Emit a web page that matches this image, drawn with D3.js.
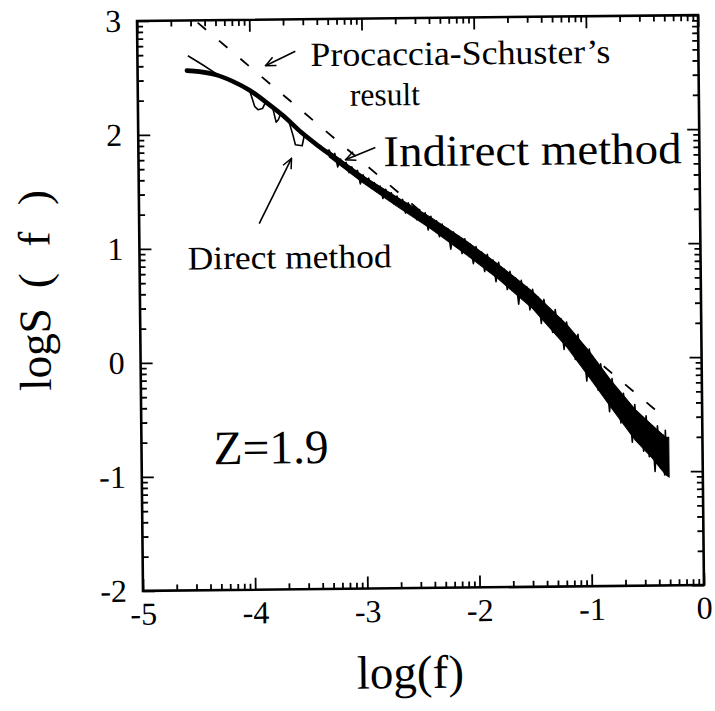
<!DOCTYPE html>
<html>
<head>
<meta charset="utf-8">
<script src="https://cdn.jsdelivr.net/npm/d3@7"></script>
<style>
body { margin: 0; background: #fff; }
svg { display: block; }
text { font-family: "Liberation Serif", "Times New Roman", serif; fill: #000; }
</style>
</head>
<body>
<svg id="chart" width="715" height="711"></svg>
<script>
/////// data ///////

var xTicks = [-5, -4, -3, -2, -1, 0];
var yTicks = [-2, -1, 0, 1, 2, 3];
// minor ticks inside each decade (log10 of 2..9)
var minorSteps = [0.301, 0.477, 0.602, 0.699, 0.778, 0.845, 0.903, 0.954];

// Indirect method (smooth, thick)
var indirectX = [-4.56, -4.45, -4.3, -4.15, -4.0, -3.85, -3.7, -3.55, -3.4, -3.25, -3.1, -2.9, -2.7, -2.5,
                 -2.3, -2.1, -1.9, -1.7, -1.5, -1.3, -1.1, -0.9, -0.7, -0.5, -0.33];
var indirectY = [2.56, 2.55, 2.52, 2.46, 2.38, 2.27, 2.15, 2.01, 1.89, 1.78, 1.67, 1.53, 1.40, 1.28,
                 1.14, 1.00, 0.85, 0.70, 0.53, 0.34, 0.10, -0.18, -0.45, -0.68, -0.88];

// Direct method (noisy, thin)
var directX = [-4.55, -4.42, -4.30, -4.15, -4.04, -4.00, -3.96, -3.93, -3.89, -3.86, -3.80, -3.77, -3.75, -3.73,
               -3.66, -3.62, -3.60, -3.54, -3.52, -3.45, -3.38, -3.33,
               -3.30, -3.275, -3.25, -3.225, -3.20, -3.175, -3.15, -3.125, -3.10, -3.075, -3.05, -3.025,
               -3.00, -2.975, -2.95, -2.925, -2.90, -2.875, -2.85, -2.825, -2.80, -2.775, -2.75, -2.725,
               -2.70, -2.675, -2.65, -2.625, -2.60, -2.575, -2.55, -2.525, -2.50, -2.475, -2.45, -2.425,
               -2.40, -2.375, -2.35, -2.325, -2.30, -2.275, -2.25, -2.225, -2.20, -2.175, -2.15, -2.125,
               -2.10, -2.075, -2.05, -2.025, -2.00, -1.975, -1.95, -1.925, -1.90, -1.875, -1.85, -1.825,
               -1.80, -1.775, -1.75, -1.725, -1.70, -1.675, -1.65, -1.625, -1.60, -1.575, -1.55, -1.525,
               -1.50, -1.475, -1.45, -1.425, -1.40, -1.375, -1.35, -1.325, -1.30, -1.275, -1.25, -1.225,
               -1.20, -1.175, -1.15, -1.125, -1.10, -1.075, -1.05, -1.025, -1.00, -0.975, -0.95, -0.925,
               -0.90, -0.875, -0.85, -0.825, -0.80, -0.775, -0.75, -0.725, -0.70, -0.675, -0.65, -0.625,
               -0.60, -0.575, -0.55, -0.525, -0.50, -0.475, -0.45, -0.425, -0.40, -0.375, -0.35, -0.34,
               -0.33, -0.32];
var directY = [2.69, 2.61, 2.53, 2.46, 2.40, 2.37, 2.24, 2.21, 2.22, 2.28, 2.23, 2.10, 2.12, 2.17,
               2.12, 1.98, 1.90, 1.89, 1.98, 1.93, 1.87, 1.84,
               1.85, 1.78, 1.82, 1.70, 1.77, 1.71, 1.74, 1.65, 1.70, 1.64, 1.67, 1.55,
               1.63, 1.56, 1.60, 1.51, 1.56, 1.48, 1.53, 1.42, 1.50, 1.42, 1.47, 1.37,
               1.44, 1.35, 1.41, 1.29, 1.38, 1.29, 1.35, 1.23, 1.32, 1.22, 1.29, 1.14,
               1.26, 1.15, 1.22, 1.08, 1.19, 1.07, 1.15, 0.97, 1.12, 1.01, 1.08, 0.93,
               1.06, 0.93, 1.01, 0.84, 0.99, 0.86, 0.94, 0.77, 0.92, 0.78, 0.87, 0.68,
               0.85, 0.70, 0.79, 0.61, 0.77, 0.63, 0.71, 0.48, 0.69, 0.54, 0.63, 0.43,
               0.61, 0.44, 0.54, 0.31, 0.52, 0.34, 0.44, 0.23, 0.43, 0.25, 0.35, 0.08,
               0.32, 0.11, 0.23, -0.01, 0.21, -0.01, 0.09, -0.20, 0.08, -0.16, -0.03, -0.28,
               -0.05, -0.31, -0.16, -0.47, -0.18, -0.43, -0.29, -0.57, -0.31, -0.59, -0.41, -0.74,
               -0.41, -0.72, -0.51, -0.82, -0.51, -0.87, -0.60, -1.00, -0.60, -0.97, -0.68, -1.03,
               -0.64, -0.97];

// envelope of the dense noisy band
var bandX  = [-3.3, -3.0, -2.7, -2.4, -2.1, -1.8, -1.5, -1.2, -1.0, -0.8, -0.6, -0.45, -0.33, -0.30];
var bandHi = [1.84, 1.62, 1.43, 1.25, 1.05, 0.83, 0.59, 0.30, 0.06, -0.21, -0.45, -0.59, -0.70, -0.70];
var bandLo = [1.79, 1.56, 1.35, 1.15, 0.93, 0.70, 0.44, 0.10, -0.17, -0.45, -0.72, -0.88, -1.03, -1.05];

// Procaccia-Schuster's result (straight dashed line)
var procacciaX = [-4.46, -0.34];
var procacciaY = [2.98, -0.525];

// annotation arrows [x0, y0, x1, y1] (tail -> tip), in data units
var arrows = [
    [-3.592, 2.719, -3.859, 2.596],
    [-2.888, 1.868, -3.155, 1.763],
    [-3.930, 1.211, -3.636, 1.781]
];

var labels = [
    {t: "Procaccia-Schuster\u2019s", x: -3.458, y: 2.588, size: 34, len: 300},
    {t: "result", x: -3.11, y: 2.237, size: 32, len: 70},
    {t: "Indirect method", x: -2.816, y: 1.702, size: 44, len: 298},
    {t: "Direct method", x: -4.572, y: 0.816, size: 33, len: 204},
    {t: "Z=1.9", x: -4.358, y: -0.895, size: 48, len: 115}
];

/////// chart ///////

var svg = d3.select("#chart");
var g = svg.append("g").attr("transform", "rotate(-0.6,420,303)");

var x = d3.scaleLinear().domain([-5, 0]).range([140, 701]),
    y = d3.scaleLinear().domain([-2, 3]).range([588, 18]);

function minors(majors) {
    var out = [];
    for (var i = 0; i < majors.length - 1; i++) {
        minorSteps.forEach(function(s) { out.push(majors[i] + s); });
    }
    return out;
}
var xMinor = minors(xTicks), yMinor = minors(yTicks);
var fmt = function(d) { return String(d); };

function addAxis(gen, transform, values, size, labelled, pad) {
    var a = gen.tickValues(values).tickSize(size).tickSizeOuter(0);
    if (labelled) a.tickFormat(fmt).tickPadding(pad); else a.tickFormat("");
    var ax = g.append("g")
        .attr("transform", transform)
        .call(a);
    ax.attr("font-family", "Liberation Serif, Times New Roman, serif")
      .attr("font-size", 32);
    ax.select(".domain").remove();
    ax.selectAll(".tick line").attr("stroke", "#000").attr("stroke-width", 1.8);
    ax.selectAll(".tick text").attr("fill", "#000");
}

var posBottom = "translate(0," + y(-2) + ")",
    posTop = "translate(0," + y(3) + ")",
    posLeft = "translate(" + x(-5) + ",0)",
    posRight = "translate(" + x(0) + ",0)";

addAxis(d3.axisBottom(x), posBottom, xTicks, -12, true, 11);
addAxis(d3.axisBottom(x), posBottom, xMinor, -6, false);
addAxis(d3.axisTop(x), posTop, xTicks, -12, false);
addAxis(d3.axisTop(x), posTop, xMinor, -6, false);
addAxis(d3.axisLeft(y), posLeft, yTicks, -12, true, 16);
addAxis(d3.axisLeft(y), posLeft, yMinor, -6, false);
addAxis(d3.axisRight(y), posRight, yTicks, -12, false);
addAxis(d3.axisRight(y), posRight, yMinor, -6, false);

// frame
g.append("rect")
    .attr("x", x(-5)).attr("y", y(3))
    .attr("width", x(0) - x(-5)).attr("height", y(-2) - y(3))
    .attr("fill", "none").attr("stroke", "#000").attr("stroke-width", 2.6);

// axis titles
g.append("text")
    .attr("x", (x(-5) + x(0)) / 2 - 14).attr("y", 688)
    .attr("text-anchor", "middle").attr("font-size", 47)
    .text("log(f)");

g.append("text")
    .attr("transform", "translate(50,387) rotate(-90)")
    .attr("font-size", 45)
    .text("logS");
g.append("text")
    .attr("transform", "translate(50,284) rotate(-90)")
    .attr("font-size", 45)
    .attr("textLength", 98).attr("lengthAdjust", "spacing")
    .text("(f)");

// dashed line
g.append("path")
    .datum(d3.range(procacciaX.length))
    .attr("fill", "none").attr("stroke", "#000").attr("stroke-width", 1.8)
    .attr("stroke-dasharray", "11,17")
    .attr("d", d3.line().x(function(i) { return x(procacciaX[i]); }).y(function(i) { return y(procacciaY[i]); }));

// noisy band
g.append("path")
    .datum(d3.range(bandX.length))
    .attr("fill", "#000").attr("stroke", "#000").attr("stroke-width", 1)
    .attr("d", d3.area()
        .x(function(i) { return x(bandX[i]); })
        .y0(function(i) { return y(bandLo[i]); })
        .y1(function(i) { return y(bandHi[i]); }));

// direct method
g.append("path")
    .datum(d3.range(directX.length))
    .attr("fill", "none").attr("stroke", "#000").attr("stroke-width", 1.6)
    .attr("stroke-linejoin", "round")
    .attr("d", d3.line().x(function(i) { return x(directX[i]); }).y(function(i) { return y(directY[i]); }));

// indirect method
g.append("path")
    .datum(d3.range(indirectX.length))
    .attr("fill", "none").attr("stroke", "#000").attr("stroke-width", 4.6)
    .attr("stroke-linecap", "round")
    .attr("d", d3.line().curve(d3.curveCatmullRom)
        .x(function(i) { return x(indirectX[i]); }).y(function(i) { return y(indirectY[i]); }));

// arrows
g.append("defs").append("marker")
    .attr("id", "arr")
    .attr("viewBox", "0 0 12 12").attr("refX", 11).attr("refY", 6)
    .attr("markerWidth", 12).attr("markerHeight", 12)
    .attr("markerUnits", "userSpaceOnUse").attr("orient", "auto")
    .append("path")
    .attr("d", "M1,1.5 L11,6 L1,10.5")
    .attr("fill", "none").attr("stroke", "#000").attr("stroke-width", 1.5);

g.selectAll(".arrow").data(arrows).enter().append("line")
    .attr("class", "arrow")
    .attr("x1", function(d) { return x(d[0]); }).attr("y1", function(d) { return y(d[1]); })
    .attr("x2", function(d) { return x(d[2]); }).attr("y2", function(d) { return y(d[3]); })
    .attr("stroke", "#000").attr("stroke-width", 1.6)
    .attr("marker-end", "url(#arr)");

// labels
g.selectAll(".lab").data(labels).enter().append("text")
    .attr("class", "lab")
    .attr("x", function(d) { return x(d.x); }).attr("y", function(d) { return y(d.y); })
    .attr("font-size", function(d) { return d.size; })
    .attr("textLength", function(d) { return d.len; })
    .attr("lengthAdjust", "spacingAndGlyphs")
    .text(function(d) { return d.t; });
</script>
</body>
</html>
